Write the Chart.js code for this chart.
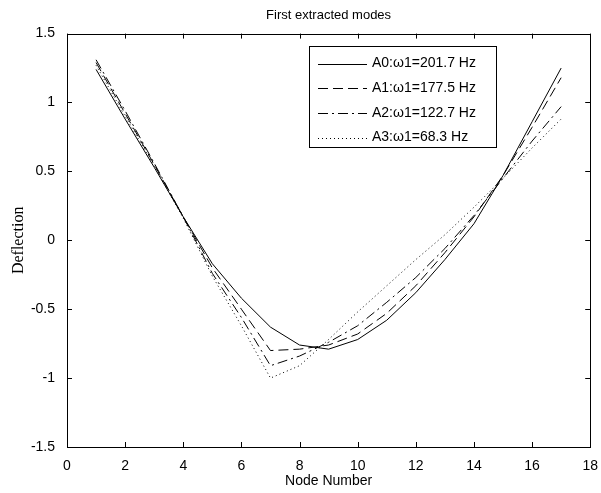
<!DOCTYPE html>
<html>
<head>
<meta charset="utf-8">
<script src="https://cdn.jsdelivr.net/npm/chart.js@4/dist/chart.umd.min.js"></script>
<style>
  html, body { margin: 0; padding: 0; background: #fff; }
  #wrap { width: 601px; height: 493px; }
</style>
</head>
<body>
<div id="wrap"><canvas id="modes"></canvas></div>
<script>
// node numbers and deflection of each extracted mode
const nodes = [1, 2, 3, 4, 5, 6, 7, 8, 9, 10, 11, 12, 13, 14, 15, 16, 17];
const a0 = [1.24, 0.88, 0.53, 0.17, -0.17, -0.42, -0.63, -0.76, -0.79, -0.72, -0.58, -0.38, -0.14, 0.12, 0.47, 0.86, 1.25];
const a1 = [1.29, 0.92, 0.55, 0.17, -0.20, -0.50, -0.80, -0.79, -0.76, -0.68, -0.53, -0.33, -0.09, 0.17, 0.47, 0.82, 1.18];
const a2 = [1.31, 0.94, 0.56, 0.17, -0.24, -0.56, -0.91, -0.84, -0.74, -0.62, -0.45, -0.27, -0.06, 0.18, 0.45, 0.72, 0.97];
const a3 = [1.27, 0.90, 0.54, 0.16, -0.26, -0.62, -1.00, -0.91, -0.72, -0.52, -0.33, -0.14, 0.04, 0.24, 0.45, 0.67, 0.88];
const labels = ['A0:\u03c91=201.7 Hz', 'A1:\u03c91=177.5 Hz', 'A2:\u03c91=122.7 Hz', 'A3:\u03c91=68.3 Hz'];
const xTicks = [0, 2, 4, 6, 8, 10, 12, 14, 16, 18];
const yTicks = [-1.5, -1, -0.5, 0, 0.5, 1, 1.5];

const dashes = [[], [10, 5], [10, 4, 2, 4], [1, 3]];
const sans = '"Liberation Sans", Arial, sans-serif';

function pts(vals) {
    return nodes.map((n, i) => ({ x: n, y: vals[i] }));
}

// box around the axes with inward ticks on all four sides
const boxPlugin = {
    id: 'box',
    afterDraw(chart) {
        const c = chart.ctx, a = chart.chartArea;
        const xs = chart.scales.x, ys = chart.scales.y;
        c.save();
        c.strokeStyle = '#000';
        c.lineWidth = 1;
        c.setLineDash([]);
        c.strokeRect(Math.round(a.left) + 0.5, Math.round(a.top) + 0.5,
            Math.round(a.right - a.left), Math.round(a.bottom - a.top));
        c.beginPath();
        xTicks.forEach(v => {
            const px = Math.round(xs.getPixelForValue(v)) + 0.5;
            c.moveTo(px, a.bottom); c.lineTo(px, a.bottom - 5);
            c.moveTo(px, a.top); c.lineTo(px, a.top + 5);
        });
        yTicks.forEach(v => {
            const py = Math.round(ys.getPixelForValue(v)) + 0.5;
            c.moveTo(a.left, py); c.lineTo(a.left + 5, py);
            c.moveTo(a.right, py); c.lineTo(a.right - 5, py);
        });
        c.stroke();
        c.restore();
    }
};

// legend box in the upper right of the axes
const legendBox = {
    id: 'legendBox',
    afterDatasetsDraw(chart) {
        const c = chart.ctx, a = chart.chartArea;
        const x0 = Math.round(a.right) - 281, y0 = Math.round(a.top) + 12;
        const w = 187, h = 101;
        c.save();
        c.fillStyle = '#fff';
        c.fillRect(x0, y0, w, h);
        c.strokeStyle = '#000';
        c.lineWidth = 1;
        c.strokeRect(x0 + 0.5, y0 + 0.5, w, h);
        c.font = '14px ' + sans;
        c.textBaseline = 'middle';
        c.fillStyle = '#000';
        chart.data.datasets.forEach((ds, i) => {
            const y = y0 + 17.5 + i * 24.7;
            c.beginPath();
            c.setLineDash(ds.borderDash);
            c.moveTo(x0 + 9, Math.round(y) + 0.5);
            c.lineTo(x0 + 58, Math.round(y) + 0.5);
            c.stroke();
            c.setLineDash([]);
            c.fillText(ds.label, x0 + 63, y);
        });
        c.restore();
    }
};

const datasets = [a0, a1, a2, a3].map((vals, i) => ({
    label: labels[i],
    data: pts(vals),
    borderColor: '#000',
    borderWidth: 1,
    borderDash: dashes[i],
    pointRadius: 0,
    tension: 0,
    fill: false
}));

const chart = new Chart(document.getElementById('modes'), {
    type: 'line',
    data: { datasets: datasets },
    options: {
        responsive: true,
        maintainAspectRatio: false,
        animation: false,
        layout: { padding: { left: 0, right: 8, top: 0, bottom: 0 } },
        plugins: {
            legend: { display: false },
            tooltip: { enabled: false },
            title: {
                display: true,
                fullSize: false,
                text: 'First extracted modes',
                color: '#000',
                font: { family: sans, size: 13, weight: 'normal' },
                padding: { top: 8, bottom: 10 }
            }
        },
        scales: {
            x: {
                type: 'linear',
                min: 0, max: 18,
                afterFit(s) { s.height = 46; },
                afterBuildTicks(s) { s.ticks = xTicks.map(v => ({ value: v })); },
                grid: { display: false },
                border: { display: false },
                ticks: {
                    color: '#000',
                    padding: 3,
                    maxRotation: 0,
                    callback: v => String(v),
                    font: { family: sans, size: 14 }
                },
                title: {
                    display: true,
                    text: 'Node Number',
                    color: '#000',
                    font: { family: sans, size: 14 },
                    padding: { top: 0, bottom: 3 }
                }
            },
            y: {
                type: 'linear',
                min: -1.5, max: 1.5,
                afterFit(s) { s.width = 67; },
                afterBuildTicks(s) { s.ticks = yTicks.map(v => ({ value: v })); },
                grid: { display: false },
                border: { display: false },
                ticks: {
                    color: '#000',
                    padding: 4,
                    callback: v => String(v),
                    font: { family: sans, size: 14 }
                },
                title: {
                    display: true,
                    text: 'Deflection',
                    color: '#000',
                    font: { family: '"Liberation Serif", "Times New Roman", serif', size: 16 },
                    padding: { top: 9, bottom: 0 }
                }
            }
        }
    },
    plugins: [boxPlugin, legendBox]
});
</script>
</body>
</html>
